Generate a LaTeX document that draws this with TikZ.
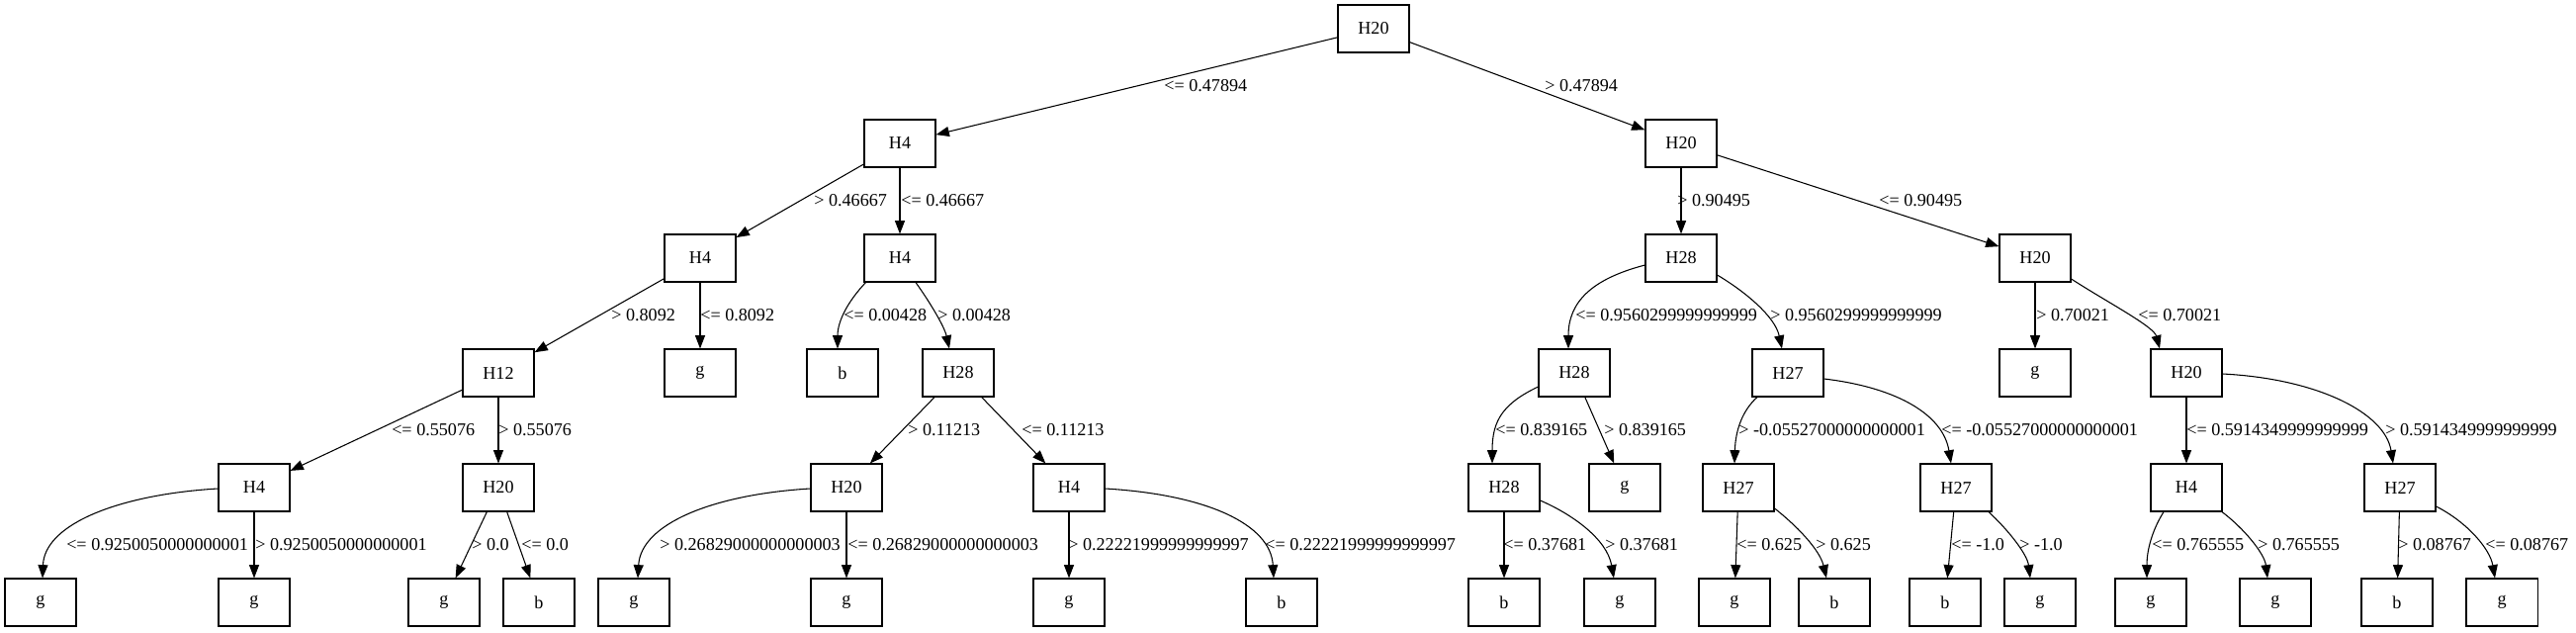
\documentclass[tikz,border=0pt]{standalone}
\usepackage{fontspec}
\setmainfont{Liberation Serif}
\usetikzlibrary{arrows.meta,calc}
\begin{document}
\begin{tikzpicture}[x=0.75pt,y=-0.75pt,
  box/.style={draw, line width=0.8pt, minimum width=54pt, minimum height=36pt, inner sep=0pt, font=\fontsize{13.6}{16}\selectfont},
  lab/.style={anchor=west, inner sep=0pt, font=\fontsize{13.6}{16}\selectfont},
  arr/.style={draw, line width=0.8pt, -{Triangle[length=10pt,width=7.5pt]}}]
\useasboundingbox (0,0) rectangle (2605,639);
% row 0
\node[box] (n0) at (1389,29) {H20};
% row 1
\node[box] (n1) at (910,145) {H4};
\node[box] (n2) at (1700,145) {H20};
% row 2
\node[box] (n3) at (708,261) {H4};
\node[box] (n4) at (910,261) {H4};
\node[box] (n5) at (1700,261) {H28};
\node[box] (n6) at (2058,261) {H20};
% row 3
\node[box] (n7) at (504,377) {H12};
\node[box] (n8) at (708,377) {g};
\node[box] (n9) at (852,377) {b};
\node[box] (n10) at (969,377) {H28};
\node[box] (n11) at (1592,377) {H28};
\node[box] (n12) at (1808,377) {H27};
\node[box] (n13) at (2058,377) {g};
\node[box] (n14) at (2211,377) {H20};
% row 4
\node[box] (n15) at (257,493) {H4};
\node[box] (n16) at (504,493) {H20};
\node[box] (n17) at (856,493) {H20};
\node[box] (n18) at (1081,493) {H4};
\node[box] (n19) at (1521,493) {H28};
\node[box] (n20) at (1643,493) {g};
\node[box] (n21) at (1758,493) {H27};
\node[box] (n22) at (1978,493) {H27};
\node[box] (n23) at (2211,493) {H4};
\node[box] (n24) at (2427,493) {H27};
% row 5
\node[box] (n25) at (41,609) {g};
\node[box] (n26) at (257,609) {g};
\node[box] (n27) at (449,609) {g};
\node[box] (n28) at (545,609) {b};
\node[box] (n29) at (641,609) {g};
\node[box] (n30) at (856,609) {g};
\node[box] (n31) at (1081,609) {g};
\node[box] (n32) at (1296,609) {b};
\node[box] (n33) at (1521,609) {b};
\node[box] (n34) at (1638,609) {g};
\node[box] (n35) at (1754,609) {g};
\node[box] (n36) at (1855,609) {b};
\node[box] (n37) at (1967,609) {b};
\node[box] (n38) at (2063,609) {g};
\node[box] (n39) at (2175,609) {g};
\node[box] (n40) at (2301,609) {g};
\node[box] (n41) at (2424,609) {b};
\node[box] (n42) at (2530,609) {g};

% straight edges
\draw[arr] (n0) -- (n1);
\draw[arr] (n0) -- (n2);
\draw[arr] (n1) -- (n3);
\draw[arr] (n1) -- (n4);
\draw[arr] (n2) -- (n5);
\draw[arr] (n2) -- (n6);
\draw[arr] (n3) -- (n7);
\draw[arr] (n3) -- (n8);
\draw[arr] (n6) -- (n13);
\draw[arr] (n7) -- (n15);
\draw[arr] (n7) -- (n16);
\draw[arr] (n10) -- (n17);
\draw[arr] (n10) -- (n18);
\draw[arr] (n11) -- (n20);
\draw[arr] (n14) -- (n23);
\draw[arr] (n15) -- (n26);
\draw[arr] (n16) -- (n27);
\draw[arr] (n16) -- (n28);
\draw[arr] (n17) -- (n30);
\draw[arr] (n18) -- (n31);
\draw[arr] (n19) -- (n33);
\draw[arr] (n21) -- (n35);
\draw[arr] (n22) -- (n37);
\draw[arr] (n24) -- (n41);

% curved edges
\draw[arr] ($(n4)+(-34,24)$) .. controls (857,305) and (847,325) .. ($(n9.north)+(-5,0)$);
\draw[arr] ($(n4.south)+(16,0)$) .. controls (940,305) and (955,330) .. ($(n10.north)+(-9,0)$);
\draw[arr] ($(n5.west)+(0,7)$) .. controls (1610,282) and (1586,305) .. ($(n11.north)+(-6,0)$);
\draw[arr] ($(n5.east)+(0,17)$) .. controls (1765,295) and (1795,320) .. ($(n12.north)+(-6,0)$);
\draw[arr] ($(n6.east)+(0,21)$) .. controls (2130,305) and (2178,330) .. ($(n14.north)+(-27,0)$);
\draw[arr] ($(n11.west)+(0,14)$) .. controls (1520,408) and (1509,425) .. ($(n19.north)+(-12,0)$);
\draw[arr] ($(n12.south)+(-31,0)$) .. controls (1762,415) and (1755,435) .. ($(n21.north)+(-4,0)$);
\draw[arr] ($(n12.east)+(0,6)$) .. controls (1920,392) and (1965,420) .. ($(n22.north)+(-5,0)$);
\draw[arr] ($(n14.east)+(0,1)$) .. controls (2345,383) and (2412,418) .. ($(n24.north)+(-7,0)$);
\draw[arr] ($(n15.west)+(0,1)$) .. controls (120,500) and (45,530) .. ($(n25.north)+(2,0)$);
\draw[arr] ($(n17.west)+(0,1)$) .. controls (720,500) and (648,530) .. ($(n29.north)+(4,0)$);
\draw[arr] ($(n18.east)+(0,1)$) .. controls (1220,500) and (1285,530) .. ($(n32.north)+(-8,0)$);
\draw[arr] ($(n19.east)+(0,13)$) .. controls (1590,520) and (1625,545) .. ($(n34.north)+(-6,0)$);
\draw[arr] ($(n21.east)+(0,21)$) .. controls (1815,530) and (1840,555) .. ($(n36.north)+(-8,0)$);
\draw[arr] ($(n22.south)+(33,0)$) .. controls (2030,535) and (2050,560) .. ($(n38.north)+(-10,0)$);
\draw[arr] ($(n23.south)+(-23,0)$) .. controls (2177,535) and (2171,555) .. ($(n39.north)+(-4,0)$);
\draw[arr] ($(n23.south)+(36,0)$) .. controls (2270,535) and (2290,560) .. ($(n40.north)+(-8,0)$);
\draw[arr] ($(n24.east)+(0,19)$) .. controls (2495,528) and (2518,555) .. ($(n42.north)+(-7,0)$);

% labels
\node[lab] (l1) at (1177,87) {<= 0.47894};
\node[lab] (l2) at (1562,87) {> 0.47894};
\node[lab] (l3) at (823,203) {> 0.46667};
\node[lab] (l4) at (911,203) {<= 0.46667};
\node[lab] (l5) at (1696,203) {> 0.90495};
\node[lab] (l6) at (1900,203) {<= 0.90495};
\node[lab] (l7) at (618,319) {> 0.8092};
\node[lab] (l8) at (708,319) {<= 0.8092};
\node[lab] (l9) at (853,319) {<= 0.00428};
\node[lab] (l10) at (948,319) {> 0.00428};
\node[lab] (l11) at (1593,319) {<= 0.9560299999999999};
\node[lab] (l12) at (1790,319) {> 0.9560299999999999};
\node[lab] (l13) at (2059,319) {> 0.70021};
\node[lab] (l14) at (2162,319) {<= 0.70021};
\node[lab] (l15) at (396,435) {<= 0.55076};
\node[lab] (l16) at (504,435) {> 0.55076};
\node[lab] (l17) at (918,435) {> 0.11213};
\node[lab] (l18) at (1033,435) {<= 0.11213};
\node[lab] (l19) at (1512,435) {<= 0.839165};
\node[lab] (l20) at (1622,435) {> 0.839165};
\node[lab] (l21) at (1758,435) {> -0.05527000000000001};
\node[lab] (l22) at (1963,435) {<= -0.05527000000000001};
\node[lab] (l23) at (2211,435) {<= 0.5914349999999999};
\node[lab] (l24) at (2412,435) {> 0.5914349999999999};
\node[lab] (l25) at (67,551) {<= 0.9250050000000001};
\node[lab] (l26) at (258,551) {> 0.9250050000000001};
\node[lab] (l27) at (477,551) {> 0.0};
\node[lab] (l28) at (527,551) {<= 0.0};
\node[lab] (l29) at (667,551) {> 0.26829000000000003};
\node[lab] (l30) at (857,551) {<= 0.26829000000000003};
\node[lab] (l31) at (1080,551) {> 0.22221999999999997};
\node[lab] (l32) at (1279,551) {<= 0.22221999999999997};
\node[lab] (l33) at (1520,551) {<= 0.37681};
\node[lab] (l34) at (1623,551) {> 0.37681};
\node[lab] (l35) at (1756,551) {<= 0.625};
\node[lab] (l36) at (1836,551) {> 0.625};
\node[lab] (l37) at (1973,551) {<= -1.0};
\node[lab] (l38) at (2042,551) {> -1.0};
\node[lab] (l39) at (2176,551) {<= 0.765555};
\node[lab] (l40) at (2283,551) {> 0.765555};
\node[lab] (l41) at (2425,551) {> 0.08767};
\node[lab] (l42) at (2513,551) {<= 0.08767};
\end{tikzpicture}
\end{document}
